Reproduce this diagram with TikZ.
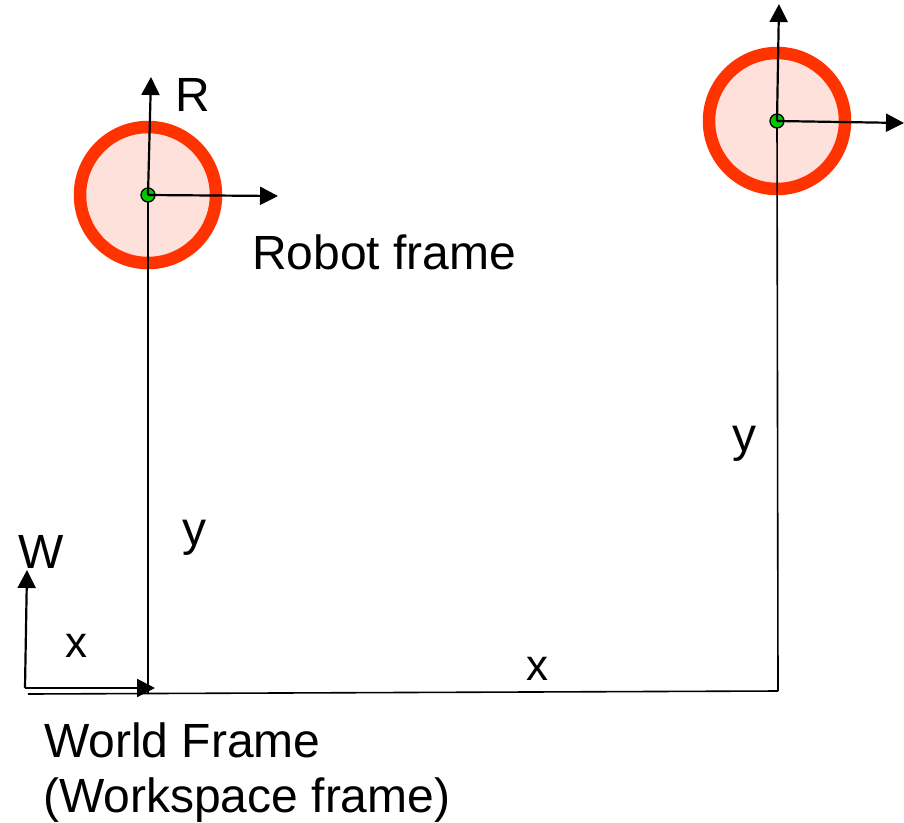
\documentclass[tikz,border=0pt]{standalone}
\usepackage{fontspec}
\setmainfont{Liberation Sans}
\usetikzlibrary{arrows.meta}
\definecolor{ringred}{RGB}{255,51,0}
\definecolor{ringfill}{RGB}{255,225,220}
\definecolor{dotgreen}{RGB}{0,200,0}
\begin{document}
\begin{tikzpicture}[x=1pt,y=-1pt,
  ring/.style={draw=ringred,fill=ringfill,line width=12.5pt},
  axis/.style={line width=2.2pt,-{Triangle[length=18pt,width=18pt]}},
  guide/.style={line width=1.6pt},
  origin/.style={circle,draw=black,fill=dotgreen,line width=1.3pt,minimum size=14pt,inner sep=0pt},
  lbl/.style={anchor=base west,inner sep=0pt,font=\fontsize{48}{57}\selectfont},
  small/.style={anchor=base west,inner sep=0pt,font=\fontsize{44}{52}\selectfont}]
\useasboundingbox (0,0) rectangle (904,822);

% robot bodies
\coordinate (c1) at (148,195);
\coordinate (c2) at (777,121);
\draw[ring] (c1) circle (68);
\draw[ring] (c2) circle (68);

% projections onto the world x axis
\coordinate (b1) at (148,693);
\coordinate (b2) at (778,691);
\coordinate (b0) at (28,694);
\draw[guide] (c1) -- (b1);
\draw[guide] (c2) -- (b2);
\draw[guide] (b0) -- (b2);

% robot frame origins
\node[origin] (o1) at (c1) {};
\node[origin] (o2) at (c2) {};

% robot frame axes
\coordinate (r1y) at (151,77);
\coordinate (r1x) at (278,196);
\coordinate (r2y) at (779,4);
\coordinate (r2x) at (904,123);
\draw[axis] (c1) -- (r1y);
\draw[axis] (c1) -- (r1x);
\draw[axis] (c2) -- (r2y);
\draw[axis] (c2) -- (r2x);

% world frame axes
\coordinate (w0) at (25,688);
\coordinate (wy) at (27,570);
\coordinate (wx) at (155,688);
\draw[axis] (w0) -- (wy);
\draw[axis] (w0) -- (wx);

% labels
\node[lbl] (lR) at (175,111) {R};
\node[lbl] (lRobot) at (252,269) {Robot frame};
\node[lbl] (lW) at (18,568) {W};
\node[lbl] (ly1) at (182,545) {y};
\node[lbl] (ly2) at (732,451) {y};
\node[small] (lx1) at (65,657) {x};
\node[small] (lx2) at (526,680) {x};
\node[lbl] (lWorld) at (44,757) {World Frame};
\node[lbl] (lWork) at (43,812) {(Workspace frame)};
\end{tikzpicture}
\end{document}
